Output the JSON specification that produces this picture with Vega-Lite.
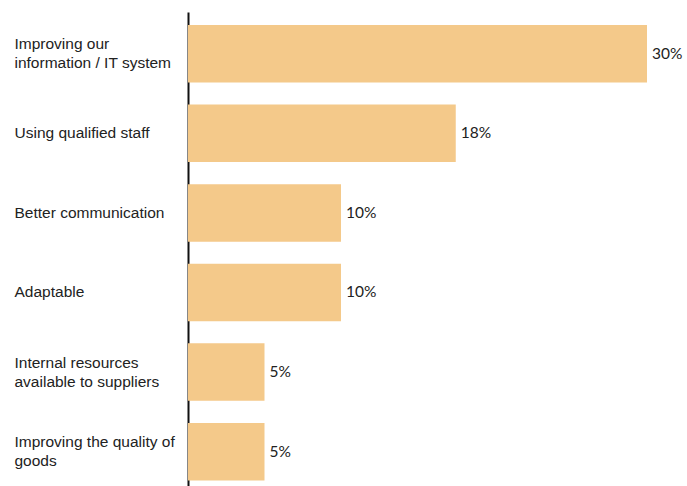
{
  "$schema": "https://vega.github.io/schema/vega-lite/v6.json",
  "autosize": "none",
  "width": 459,
  "height": 474,
  "padding": {"left": 188, "top": 12, "right": 40, "bottom": 0},
  "background": "white",
  "config": {"view": {"stroke": null}},
  "data": {
    "values": [
      {"category": "Improving our|information / IT system", "value": 30, "label": "30%"},
      {"category": "Using qualified staff", "value": 17.5, "label": "18%"},
      {"category": "Better communication", "value": 10, "label": "10%"},
      {"category": "Adaptable", "value": 10, "label": "10%"},
      {"category": "Internal resources|available to suppliers", "value": 5, "label": "5%"},
      {"category": "Improving the quality of|goods", "value": 5, "label": "5%"}
    ]
  },
  "encoding": {
    "y": {
      "field": "category",
      "type": "nominal",
      "sort": null,
      "scale": {"paddingInner": 0.278, "paddingOuter": 0.116, "align": 0.7},
      "axis": {
        "title": null,
        "ticks": false,
        "tickSize": 0,
        "labelAlign": "left",
        "labelBaseline": "middle",
        "labelPadding": 174,
        "labelLimit": 180,
        "labelFont": "Liberation Sans",
        "labelFontSize": 15.5,
        "labelColor": "#222222",
        "labelLineHeight": 19,
        "labelOffset": {"condition": {"test": "indexof(datum.value, '|') >= 0", "value": -9.5}, "value": 0},
        "labelExpr": "split(datum.label, '|')",
        "domainColor": "#111111",
        "domainWidth": 2,
        "grid": false
      }
    },
    "x": {
      "field": "value",
      "type": "quantitative",
      "scale": {"domain": [0, 30], "nice": false},
      "axis": null
    }
  },
  "layer": [
    {"mark": {"type": "bar", "color": "#F4C98A"}},
    {
      "mark": {"type": "text", "align": "left", "baseline": "middle", "dx": 5, "font": "Lato", "fontSize": 15.5, "color": "#222222"},
      "encoding": {"text": {"field": "label"}}
    }
  ]
}
